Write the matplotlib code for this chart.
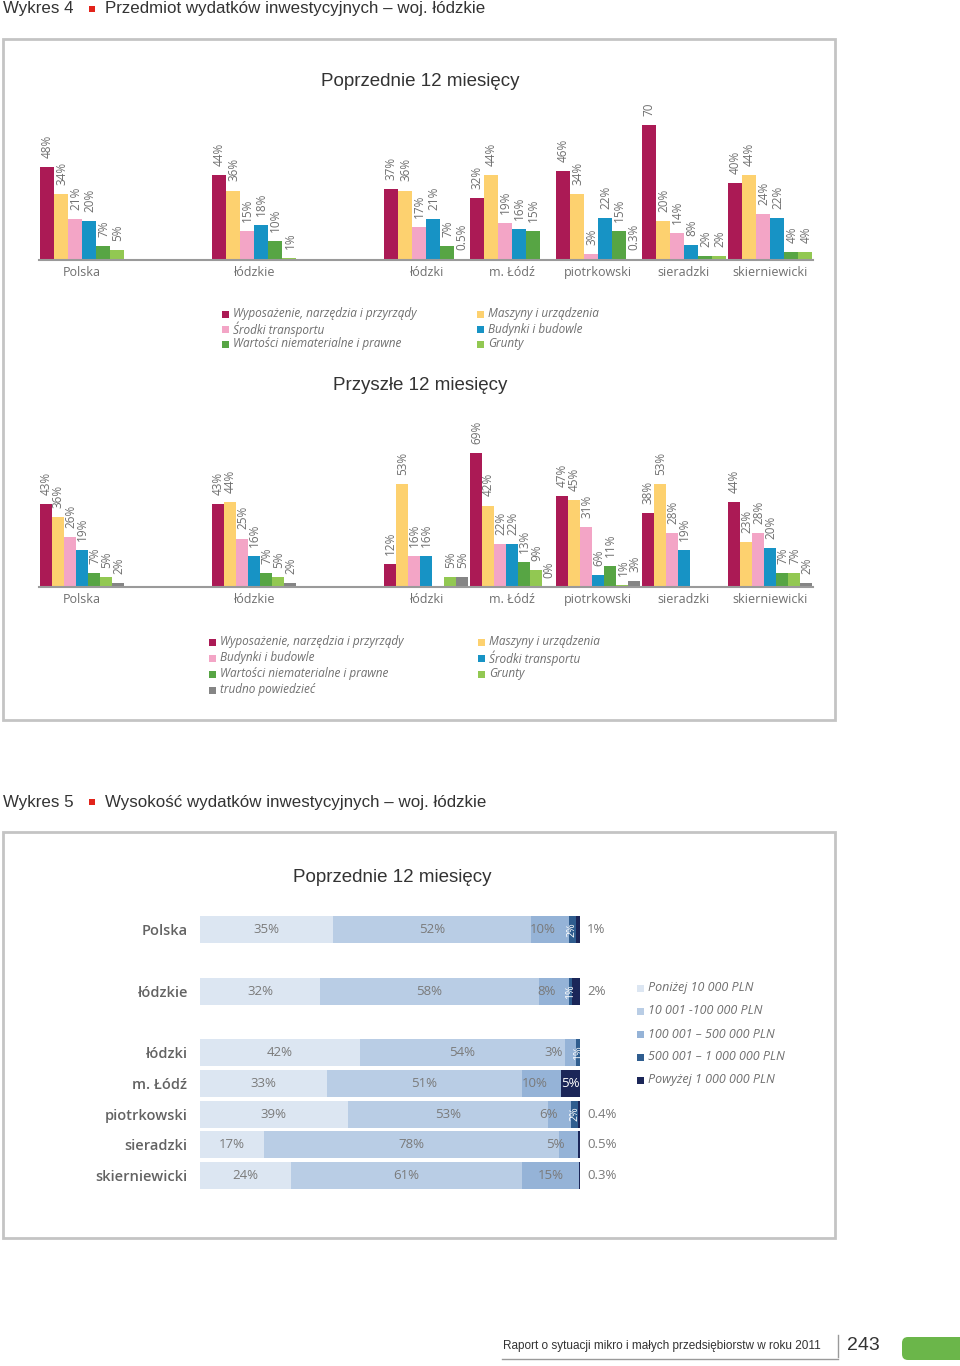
import numpy as np
import matplotlib
matplotlib.use("Agg")
import matplotlib.pyplot as plt
from matplotlib.patches import Rectangle, FancyBboxPatch

W, H = 960, 1366
nan = np.nan

# regions (empty slots keep the gaps that the original charts have)
regions = ["Polska", "", "łódzkie", "", "łódzki", "m. Łódź", "piotrkowski", "sieradzki", "skierniewicki"]

# Wykres 4 - poprzednie 12 miesiecy
prev_names = ["Wyposażenie, narzędzia i przyrządy", "Maszyny i urządzenia", "Środki transportu",
              "Budynki i budowle", "Wartości niematerialne i prawne", "Grunty"]
prev_wyposazenie = [48, nan, 44, nan, 37, 32, 46, 70, 40]
prev_maszyny = [34, nan, 36, nan, 36, 44, 34, 20, 44]
prev_transport = [21, nan, 15, nan, 17, 19, 3, 14, 24]
prev_budynki = [20, nan, 18, nan, 21, 16, 22, 8, 22]
prev_niemat = [7, nan, 10, nan, 7, 15, 15, 2, 4]
prev_grunty = [5, nan, 1, nan, 0.5, nan, 0.3, 2, 4]
prev_label_fix = {(0, 7): "70"}

# Wykres 4 - przyszle 12 miesiecy
fut_names = ["Wyposażenie, narzędzia i przyrządy", "Maszyny i urządzenia", "Budynki i budowle",
             "Środki transportu", "Wartości niematerialne i prawne", "Grunty", "trudno powiedzieć"]
fut_wyposazenie = [43, nan, 43, nan, 12, 69, 47, 38, 44]
fut_maszyny = [36, nan, 44, nan, 53, 42, 45, 53, 23]
fut_budynki = [26, nan, 25, nan, 16, 22, 31, 28, 28]
fut_transport = [19, nan, 16, nan, 16, 22, 6, 19, 20]
fut_niemat = [7, nan, 7, nan, nan, 13, 11, nan, 7]
fut_grunty = [5, nan, 5, nan, 5, 9, 1, nan, 7]
fut_trudno = [2, nan, 2, nan, 5, 0, 3, nan, 2]

# Wykres 5 - wysokosc wydatkow
size_names = ["Poniżej 10 000 PLN", "10 001 -100 000 PLN", "100 001 – 500 000 PLN",
              "500 001 – 1 000 000 PLN", "Powyżej 1 000 000 PLN"]
size_below10k = [35, nan, 32, nan, 42, 33, 39, 17, 24]
size_10k_100k = [52, nan, 58, nan, 54, 51, 53, 78, 61]
size_100k_500k = [10, nan, 8, nan, 3, 10, 6, 5, 15]
size_500k_1m = [2, nan, 1, nan, 1, 0, 2, 0, 0]
size_above1m = [1, nan, 2, nan, 0, 5, 0.4, 0.5, 0.3]

CRIMSON, YELLOW, PINK, BLUE = "#ab1a55", "#fdd16f", "#f3a5c6", "#1793c5"
GREEN, LGREEN, GREY = "#57a544", "#92c852", "#858585"
prev_colors = [CRIMSON, YELLOW, PINK, BLUE, GREEN, LGREEN]
fut_colors = [CRIMSON, YELLOW, PINK, BLUE, GREEN, LGREEN, GREY]
size_colors = ["#dce6f2", "#b9cde5", "#95b3d7", "#2f5d8f", "#1b2658"]

TXT = "#6f6f6f"
SANS = ['Liberation Sans', 'DejaVu Sans']
plt.rcParams['font.family'] = ['Open Sans', 'DejaVu Sans']

fig = plt.figure(figsize=(W / 100, H / 100), dpi=100)
bg = fig.add_axes([0, 0, 1, 1])
bg.set_xlim(0, W)
bg.set_ylim(H, 0)
bg.axis("off")


def px_axes(x0, y0, x1, y1):
    ax = fig.add_axes([x0 / W, 1 - y1 / H, (x1 - x0) / W, (y1 - y0) / H])
    ax.patch.set_alpha(0)
    return ax


def header(y, num, title):
    bg.text(3, y, "Wykres " + num, fontsize=12.2, color="#333333", va="center", family=SANS)
    bg.add_patch(Rectangle((88.5, y - 3.5), 6, 6, color="#e2231a", lw=0))
    bg.text(105, y, title, fontsize=12.2, color="#333333", va="center", family=SANS)


def legend(cols, rows_y, names, colors, fs=8.5):
    # items fill column by column
    per_col = len(rows_y)
    for i, (name, c) in enumerate(zip(names, colors)):
        cx = cols[i // per_col]
        cy = rows_y[i % per_col]
        bg.add_patch(Rectangle((cx, cy - 3.5), 7, 7, color=c, lw=0))
        bg.text(cx + 11, cy, name, fontsize=fs, style="italic", color=TXT, va="center")


def grouped(ax, series, colors, ymax, fixes=None):
    fixes = fixes or {}
    n = len(series)
    w = 0.985 / n
    x = np.arange(len(regions))
    for k, (vals, c) in enumerate(zip(series, colors)):
        off = (k - (n - 1) / 2) * w
        vals = np.array(vals, dtype=float)
        ax.bar(x + off, np.nan_to_num(vals), width=w, color=c, linewidth=0)
        for i, v in enumerate(vals):
            if np.isnan(v):
                continue
            txt = fixes.get((k, i), f"{v:g}%")
            ax.annotate(txt, (x[i] + off, v), xytext=(0.5, 6.5), textcoords="offset points",
                        rotation=90, ha="center", va="bottom", fontsize=8.5, color=TXT)
    ax.set_xlim(-0.5, len(regions) - 0.5)
    ax.set_ylim(0, ymax)
    ax.set_xticks(x)
    ax.set_xticklabels(regions, fontsize=9, color=TXT)
    ax.tick_params(axis="x", length=0, pad=4)
    ax.set_yticks([])
    for s in ["top", "left", "right"]:
        ax.spines[s].set_visible(False)
    ax.spines["bottom"].set_color("#9a9a9a")
    ax.spines["bottom"].set_linewidth(1.5)


# ---------------- Wykres 4 ----------------
header(9, "4", "Przedmiot wydatków inwestycyjnych – woj. łódzkie")
bg.add_patch(Rectangle((3, 39), 832, 681, fill=False, ec="#c4c4c4", lw=2))

bg.text(420, 82, "Poprzednie 12 miesięcy", fontsize=13.5, color="#333333", ha="center", va="center",
        family=SANS)
ax1 = px_axes(39, 100, 813, 260)
grouped(ax1, [prev_wyposazenie, prev_maszyny, prev_transport, prev_budynki, prev_niemat, prev_grunty],
        prev_colors, 160 / 1.93, prev_label_fix)
order1 = (0, 2, 4, 1, 3, 5)
legend([222, 477], [314, 329, 344],
       [prev_names[i] for i in order1], [prev_colors[i] for i in order1])

bg.text(420, 386, "Przyszłe 12 miesięcy", fontsize=13.5, color="#333333", ha="center", va="center",
        family=SANS)
ax2 = px_axes(39, 420, 813, 587)
grouped(ax2, [fut_wyposazenie, fut_maszyny, fut_budynki, fut_transport, fut_niemat, fut_grunty, fut_trudno],
        fut_colors, 167 / 1.94)
order2 = (0, 2, 4, 6, 1, 3, 5)
legend([209, 478], [642, 658, 674, 690],
       [fut_names[i] for i in order2], [fut_colors[i] for i in order2])

# ---------------- Wykres 5 ----------------
header(802, "5", "Wysokość wydatków inwestycyjnych – woj. łódzkie")
bg.add_patch(Rectangle((3, 832), 832, 406, fill=False, ec="#c4c4c4", lw=2))
bg.text(392, 877, "Poprzednie 12 miesięcy", fontsize=13.5, color="#333333", ha="center", va="center",
        family=SANS)

ax3 = px_axes(200, 914.6, 580, 1190.9)
data = np.array([size_below10k, size_10k_100k, size_100k_500k, size_500k_1m, size_above1m], dtype=float)
with np.errstate(invalid="ignore", divide="ignore"):
    share = data / np.nansum(data, axis=0) * 100
y = np.arange(len(regions))
left = np.zeros(len(regions))
for k in range(len(size_names)):
    ax3.barh(y, np.nan_to_num(share[k]), left=left, height=0.88, color=size_colors[k], linewidth=0)
    for i, v in enumerate(data[k]):
        if np.isnan(v) or v <= 0:
            continue
        seg = share[k][i]
        cx = left[i] + seg / 2
        lab = f"{v:g}%"
        if k < 2 or (k == 2 and seg >= 12):
            ax3.text(cx, i, lab, ha="center", va="center", fontsize=9.5, color="#7a7a7a")
        elif k == 2:
            # small segment: label pushed left so it clears the thin dark segments
            ax3.text(left[i] + seg - 3.5, i, lab, ha="right", va="center", fontsize=9.5, color="#7a7a7a")
        elif k == 3:
            ax3.text(cx, i, lab, ha="center", va="center", fontsize=7.5, color="white", rotation=90)
        elif v >= 3:
            ax3.text(cx, i, lab, ha="center", va="center", fontsize=9.5, color="white")
        else:
            ax3.annotate(lab, (100, i), xytext=(5, 0), textcoords="offset points",
                         ha="left", va="center", fontsize=9.5, color="#7a7a7a", annotation_clip=False)
    left += np.nan_to_num(share[k])
ax3.set_xlim(0, 100)
ax3.set_ylim(len(regions) - 0.5, -0.5)
ax3.set_yticks(y)
ax3.set_yticklabels(regions, fontsize=10.5, fontweight="semibold", color="#636363")
ax3.tick_params(axis="y", length=0, pad=9)
ax3.set_xticks([])
for s in ax3.spines.values():
    s.set_visible(False)
legend([637], [988, 1011, 1034, 1057, 1080], size_names, size_colors, fs=9)

# ---------------- stopka ----------------
bg.text(503, 1346, "Raport o sytuacji mikro i małych przedsiębiorstw w roku 2011", fontsize=8.5,
        color="#333333", va="center", family=SANS)
bg.plot([502, 838], [1359, 1359], color="#9a9a9a", lw=1)
bg.plot([838, 838], [1335, 1357], color="#9a9a9a", lw=1)
bg.text(847, 1345, "243", fontsize=14, color="#333333", va="center", family=SANS)
bg.add_patch(FancyBboxPatch((902, 1337), 70, 23, boxstyle="round,pad=0,rounding_size=6",
                            color="#6bb64a", lw=0))

fig.savefig("out.png", dpi=100)
